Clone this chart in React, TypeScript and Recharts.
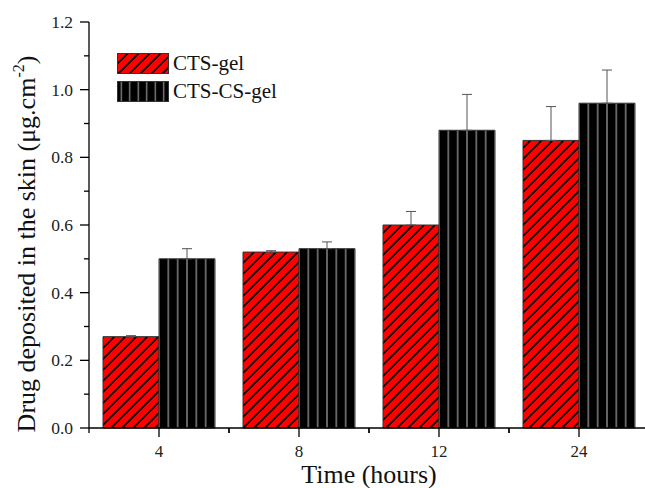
import { Bar, BarChart, ErrorBar, Label, Legend, XAxis, YAxis } from "recharts";

const hours = ["4", "8", "12", "24"];
const ctsGel = [0.27, 0.52, 0.6, 0.85];
const ctsGelErr = [0.003, 0.004, 0.04, 0.1];
const ctsCsGel = [0.5, 0.53, 0.88, 0.96];
const ctsCsGelErr = [0.03, 0.02, 0.106, 0.098];
const yTicks = [0, 0.1, 0.2, 0.3, 0.4, 0.5, 0.6, 0.7, 0.8, 0.9, 1.0, 1.1, 1.2];

const data = hours.map((h, i) => ({
  hour: h,
  cts: ctsGel[i],
  ctsErr: [0, ctsGelErr[i]],
  ctsCs: ctsCsGel[i],
  ctsCsErr: [0, ctsCsGelErr[i]],
}));

const FONT = '"Liberation Serif", "Times New Roman", serif';

function YTick({ x, y, payload }: any) {
  const v = payload.value as number;
  const major = Math.round(v * 10) % 2 === 0;
  return (
    <g>
      <line x1={x - (major ? 9 : 5)} x2={x} y1={y} y2={y} stroke="#000" strokeWidth={1.3} />
      {major && (
        <text x={x - 16} y={y} dy="0.35em" textAnchor="end" fontFamily={FONT} fontSize={17.5} fill="#222">
          {v.toFixed(1)}
        </text>
      )}
    </g>
  );
}

function XTick({ x, y, payload }: any) {
  const half = 70;
  return (
    <g>
      <line x1={x} x2={x} y1={y} y2={y + 9} stroke="#000" strokeWidth={1.3} />
      <line x1={x - half} x2={x - half} y1={y} y2={y + 5} stroke="#000" strokeWidth={1.3} />
      <line x1={x + half} x2={x + half} y1={y} y2={y + 5} stroke="#000" strokeWidth={1.3} />
      <text x={x} y={y + 23} dy="0.35em" textAnchor="middle" fontFamily={FONT} fontSize={17} fill="#222">
        {payload.value}
      </text>
    </g>
  );
}

function LegendSwatches() {
  const items = [
    { name: "CTS-gel", fill: "url(#lgHatch)" },
    { name: "CTS-CS-gel", fill: "url(#lgStripe)" },
  ];
  return (
    <div style={{ fontFamily: FONT, fontSize: 21, color: "#111" }}>
      <svg width={0} height={0} style={{ position: "absolute" }}>
        <defs>
          <pattern id="lgHatch" patternUnits="userSpaceOnUse" width={11} height={11}>
            <rect width={11} height={11} fill="#ff0000" />
            <path d="M-1,1 L1,-1 M0,11 L11,0 M10,12 L12,10" stroke="#000" strokeWidth={1.6} />
          </pattern>
          <pattern id="lgStripe" patternUnits="userSpaceOnUse" width={8.5} height={10}>
            <rect width={8.5} height={10} fill="#000" />
            <line x1={4.25} x2={4.25} y1={0} y2={10} stroke="#8a8a8a" strokeWidth={1.3} />
          </pattern>
        </defs>
      </svg>
      {items.map((it) => (
        <div key={it.name} style={{ display: "flex", alignItems: "center", height: 28 }}>
          <svg width={52} height={21} style={{ display: "block" }}>
            <rect x={0.5} y={0.5} width={51} height={20} fill={it.fill} stroke="#333" strokeWidth={1} />
          </svg>
          <span style={{ marginLeft: 4, lineHeight: "21px" }}>{it.name}</span>
        </div>
      ))}
    </div>
  );
}

export default function App() {
  return (
    <div style={{ position: "absolute", left: 0, top: 0, width: 660, height: 488, background: "#fff" }}>
      <BarChart
        width={660}
        height={488}
        data={data}
        margin={{ top: 22, right: 11, bottom: 0, left: 0 }}
        barCategoryGap="10%"
        barGap={0}
      >
        <defs>
          <pattern id="hatchRed" patternUnits="userSpaceOnUse" width={11} height={11}>
            <rect width={11} height={11} fill="#ff0000" />
            <path d="M-1,1 L1,-1 M0,11 L11,0 M10,12 L12,10" stroke="#000" strokeWidth={1.6} />
          </pattern>
          <pattern id="stripeBlack" patternUnits="userSpaceOnUse" x={154.33} width={9.3333} height={10}>
            <rect width={9.3333} height={10} fill="#000" />
            <line x1={4.667} x2={4.667} y1={0} y2={10} stroke="#8a8a8a" strokeWidth={1.4} />
          </pattern>
        </defs>
        <XAxis
          dataKey="hour"
          height={60}
          axisLine={{ stroke: "#000", strokeWidth: 1.3 }}
          tickLine={false}
          tickSize={0}
          tickMargin={0}
          tick={<XTick />}
          interval={0}
        >
          <Label
            content={(props: any) => {
              const vb = props.viewBox;
              return (
                <text x={vb.x + vb.width / 2} y={483} textAnchor="middle" fontFamily={FONT} fontSize={26} fill="#111">
                  Time (hours)
                </text>
              );
            }}
          />
        </XAxis>
        <YAxis
          width={89}
          domain={[0, 1.2]}
          ticks={yTicks}
          interval={0}
          axisLine={{ stroke: "#000", strokeWidth: 1.3 }}
          tickLine={false}
          tickSize={0}
          tickMargin={0}
          tick={<YTick />}
        >
          <Label
            content={() => (
              <text
                x={0}
                y={0}
                transform="translate(35,244) rotate(-90)"
                textAnchor="middle"
                fontFamily={FONT}
                fontSize={26}
                fill="#111"
              >
                Drug deposited in the skin (μg.cm
                <tspan dy={-11} fontSize={16}>-2</tspan>
                <tspan dy={11}>)</tspan>
              </text>
            )}
          />
        </YAxis>
        <Legend
          layout="horizontal"
          verticalAlign="middle"
          align="center"
          wrapperStyle={{ top: 49, left: 117, width: "auto", height: "auto" }}
          content={() => <LegendSwatches />}
        />
        <Bar dataKey="cts" name="CTS-gel" fill="url(#hatchRed)" stroke="#333" strokeWidth={1} isAnimationActive={false}>
          <ErrorBar dataKey="ctsErr" direction="y" width={5} stroke="#555" strokeWidth={1} />
        </Bar>
        <Bar dataKey="ctsCs" name="CTS-CS-gel" fill="url(#stripeBlack)" stroke="#333" strokeWidth={1} isAnimationActive={false}>
          <ErrorBar dataKey="ctsCsErr" direction="y" width={5} stroke="#555" strokeWidth={1} />
        </Bar>
      </BarChart>
    </div>
  );
}
